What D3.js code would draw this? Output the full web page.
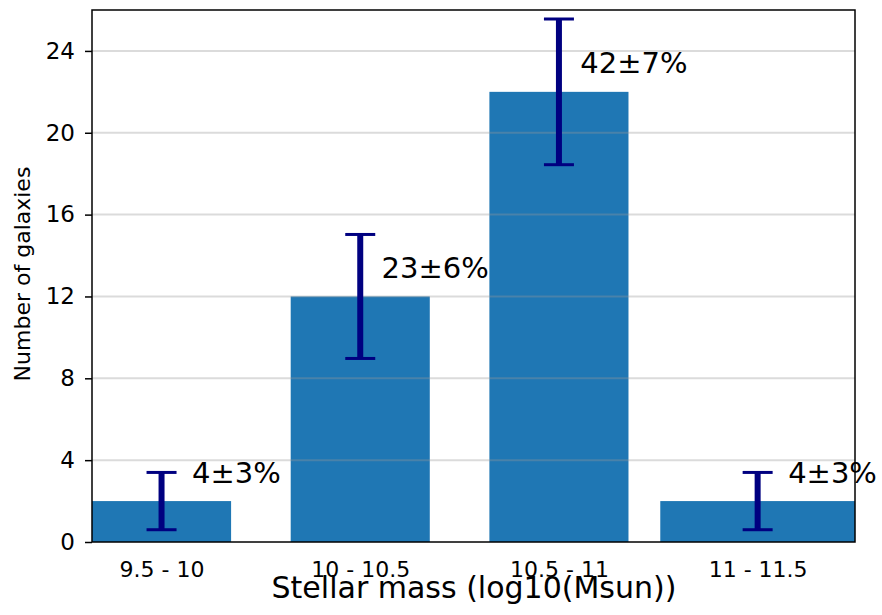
<!DOCTYPE html>
<html>
<head>
<meta charset="utf-8">
<script src="https://cdn.jsdelivr.net/npm/d3@7"></script>
<style>
  html, body { margin: 0; padding: 0; background: #ffffff; }
  svg { display: block; font-family: "DejaVu Sans", sans-serif; }
</style>
</head>
<body>
<svg id="chart" width="882" height="615"></svg>
<script>
const categories = ["9.5 - 10", "10 - 10.5", "10.5 - 11", "11 - 11.5"];
const counts = [2, 12, 22, 2];
const errors = [1.4, 3.03, 3.56, 1.4];
const percentLabels = ["4±3%", "23±6%", "42±7%", "4±3%"];
const yTicks = [0, 4, 8, 12, 16, 20, 24];

const svg = d3.select("#chart");
const pLeft = 92, pRight = 855, pTop = 10, pBottom = 542;

const x = d3.scaleLinear().domain([-0.35, 3.49]).range([pLeft, pRight]);
const y = d3.scaleLinear().domain([0, 26]).range([pBottom, pTop]);

svg.append("defs").append("clipPath").attr("id", "plotclip")
  .append("rect").attr("x", pLeft).attr("y", pTop)
  .attr("width", pRight - pLeft).attr("height", pBottom - pTop);

const plot = svg.append("g").attr("clip-path", "url(#plotclip)");

// bars
const barW = 0.7;
plot.selectAll("rect.bar").data(counts).enter().append("rect")
  .attr("class", "bar")
  .attr("x", (d, i) => i === counts.length - 1 ? x(i - 0.49) : x(i - barW / 2))
  .attr("width", (d, i) => i === counts.length - 1 ? x(i + 0.6) - x(i - 0.49) : x(barW) - x(0))
  .attr("y", d => y(d))
  .attr("height", d => y(0) - y(d))
  .attr("fill", "#1f77b4");

// grid lines (drawn over bars, semi-transparent)
plot.selectAll("line.grid").data(yTicks.filter(t => t > 0)).enter().append("line")
  .attr("x1", pLeft).attr("x2", pRight)
  .attr("y1", d => y(d)).attr("y2", d => y(d))
  .attr("stroke", "#999999").attr("stroke-opacity", 0.35).attr("stroke-width", 2);

// error bars
const capHalf = 15;
const eb = plot.selectAll("g.err").data(counts).enter().append("g").attr("class", "err");
eb.append("line")
  .attr("x1", (d, i) => x(i)).attr("x2", (d, i) => x(i))
  .attr("y1", (d, i) => y(d + errors[i])).attr("y2", (d, i) => y(d - errors[i]))
  .attr("stroke", "#000080").attr("stroke-width", 6);
eb.append("line")
  .attr("x1", (d, i) => x(i) - capHalf).attr("x2", (d, i) => x(i) + capHalf)
  .attr("y1", (d, i) => y(d + errors[i])).attr("y2", (d, i) => y(d + errors[i]))
  .attr("stroke", "#000080").attr("stroke-width", 3);
eb.append("line")
  .attr("x1", (d, i) => x(i) - capHalf).attr("x2", (d, i) => x(i) + capHalf)
  .attr("y1", (d, i) => y(d - errors[i])).attr("y2", (d, i) => y(d - errors[i]))
  .attr("stroke", "#000080").attr("stroke-width", 3);

// percentage labels
svg.selectAll("text.pct").data(percentLabels).enter().append("text")
  .attr("class", "pct")
  .attr("x", (d, i) => x(i + 0.377))
  .attr("y", (d, i) => y(counts[i] + 0.9))
  .attr("text-anchor", "middle")
  .attr("font-size", 29)
  .attr("fill", "#000")
  .text(d => d);

// y axis
const yAxis = d3.axisLeft(y).tickValues(yTicks).tickSize(7).tickPadding(10);
const gy = svg.append("g").attr("transform", `translate(${pLeft},0)`).call(yAxis);
gy.select(".domain").remove();
gy.selectAll(".tick line").attr("stroke", "#000").attr("stroke-width", 1.5);
gy.selectAll(".tick text").attr("font-size", 23).attr("font-family", "DejaVu Sans").attr("fill", "#000");

// x axis (category labels, no tick marks)
const xAxis = d3.axisBottom(x).tickValues(d3.range(categories.length))
  .tickFormat(i => categories[i]).tickSize(0).tickPadding(0);
const gx = svg.append("g").attr("transform", `translate(0,${pBottom})`).call(xAxis);
gx.select(".domain").remove();
gx.selectAll(".tick text").attr("font-size", 22).attr("font-family", "DejaVu Sans")
  .attr("fill", "#000").attr("y", 35).attr("dy", null);

// frame
svg.append("rect").attr("x", pLeft).attr("y", pTop)
  .attr("width", pRight - pLeft).attr("height", pBottom - pTop)
  .attr("fill", "none").attr("stroke", "#000").attr("stroke-width", 1.5);

// axis labels
svg.append("text").attr("x", 474).attr("y", 598)
  .attr("text-anchor", "middle").attr("font-size", 30).attr("fill", "#000")
  .text("Stellar mass (log10(Msun))");
svg.append("text")
  .attr("transform", `translate(30,${(pTop + pBottom) / 2 - 2}) rotate(-90)`)
  .attr("text-anchor", "middle").attr("font-size", 22).attr("fill", "#000")
  .text("Number of galaxies");
</script>
</body>
</html>
